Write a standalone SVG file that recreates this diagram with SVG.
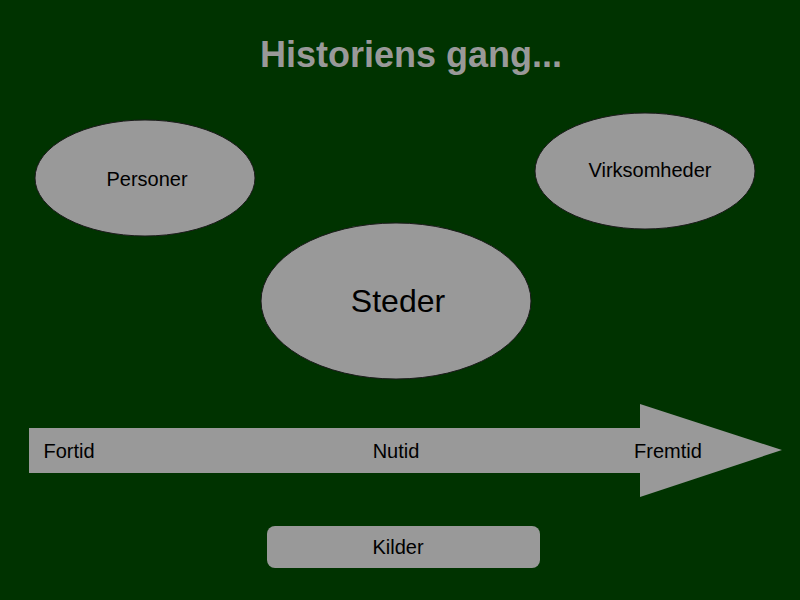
<svg xmlns="http://www.w3.org/2000/svg" width="800" height="600" viewBox="0 0 800 600">
<style>
.s{fill:#999999;stroke:#1a1a1a;stroke-width:1}
.t{font-family:"Liberation Sans",Arial,sans-serif;fill:#000;text-anchor:middle}
</style>
<rect width="800" height="600" fill="#003300"/>
<text x="411" y="67" font-family="Liberation Sans,Arial,sans-serif" font-weight="bold" font-size="36" fill="#999999" text-anchor="middle">Historiens gang...</text>
<g id="personer"><ellipse class="s" cx="145" cy="178" rx="110" ry="58"/><text class="t" x="147" y="186" font-size="20">Personer</text></g>
<g id="virksomheder"><ellipse class="s" cx="645" cy="171" rx="110" ry="58"/><text class="t" x="650" y="177" font-size="20">Virksomheder</text></g>
<g id="steder"><ellipse class="s" cx="396" cy="301" rx="135" ry="78"/><text class="t" x="398" y="312" font-size="32">Steder</text></g>
<g id="tidslinje"><polygon fill="#999999" points="29,428 640,428 640,404 782,450 640,497 640,473 29,473"/>
<text class="t" x="69" y="458" font-size="20">Fortid</text>
<text class="t" x="396" y="458" font-size="20">Nutid</text>
<text class="t" x="668" y="458" font-size="20">Fremtid</text></g>
<g id="kilder"><rect x="267" y="526" width="273" height="42" rx="8" fill="#999999"/><text class="t" x="398" y="554" font-size="20">Kilder</text></g>
<g id="connectors"/>
</svg>
